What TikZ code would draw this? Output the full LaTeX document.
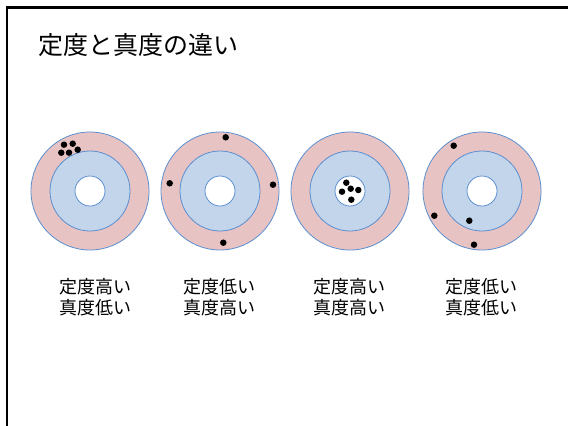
\documentclass[tikz,border=0pt]{standalone}
\usepackage{fontspec}
\newfontfamily\jp{Noto Sans CJK JP}
\definecolor{ringpink}{HTML}{E8C3C3}
\definecolor{ringblue}{HTML}{C3D5EA}
\definecolor{ringline}{HTML}{5B8FD0}
\tikzset{
  ring/.style={circle, draw=ringline, line width=0.8pt, inner sep=0pt, minimum size=#1},
  outerring/.style={ring=118pt, fill=ringpink},
  midring/.style={ring=80pt, fill=ringblue},
  innerring/.style={ring=30pt, fill=white},
  dot/.style={circle, fill=black, inner sep=0pt, minimum size=6.5pt},
  lbl/.style={font={\fontsize{18pt}{21pt}\jp}, align=center, inner sep=0pt},
  frame/.style={line width=2.5pt, line cap=rect}
}
\begin{document}
\begin{tikzpicture}[x=1pt, y=-1pt]
\useasboundingbox (0,0) rectangle (568,426);
\fill[white] (0,0) rectangle (568,426);
\coordinate (fa) at (7,426);
\coordinate (fb) at (7,7.5);
\coordinate (fc) at (570,7.5);
\draw[frame] (fa) -- (fb) -- (fc);
\node[font={\fontsize{25pt}{30pt}\jp}, anchor=west, inner sep=0pt] (title) at (38.5,45) {定度と真度の違い};
% targets
\foreach \n/\x in {1/90,2/220,3/350,4/482}{
  \node[outerring] (o\n) at (\x,191) {};
  \node[midring] (m\n) at (\x,191) {};
  \node[innerring] (i\n) at (\x,191) {};
}
% dots target 1
\node[dot] (d11) at (64,144.7) {};
\node[dot] (d12) at (72.7,143.7) {};
\node[dot] (d13) at (61.3,152.7) {};
\node[dot] (d14) at (69,152.7) {};
\node[dot] (d15) at (77.7,149.7) {};
% dots target 2
\node[dot] (d21) at (225.7,137.3) {};
\node[dot] (d22) at (169.7,183.3) {};
\node[dot] (d23) at (273,184.7) {};
\node[dot] (d24) at (223.3,242.7) {};
% dots target 3
\node[dot] (d31) at (346.3,182.7) {};
\node[dot] (d32) at (342,191.7) {};
\node[dot] (d33) at (350.7,188.7) {};
\node[dot] (d34) at (358.3,190) {};
\node[dot] (d35) at (351.3,199.7) {};
% dots target 4
\node[dot] (d41) at (453.7,145.7) {};
\node[dot] (d42) at (434.3,215.7) {};
\node[dot] (d43) at (469.3,220.7) {};
\node[dot] (d44) at (474,244.7) {};
% labels
\node[lbl] (l1) at (95,297.5) {定度高い\\真度低い};
\node[lbl] (l2) at (219,297.5) {定度低い\\真度高い};
\node[lbl] (l3) at (349,297.5) {定度高い\\真度高い};
\node[lbl] (l4) at (481.5,297.5) {定度低い\\真度低い};
\end{tikzpicture}
\end{document}
